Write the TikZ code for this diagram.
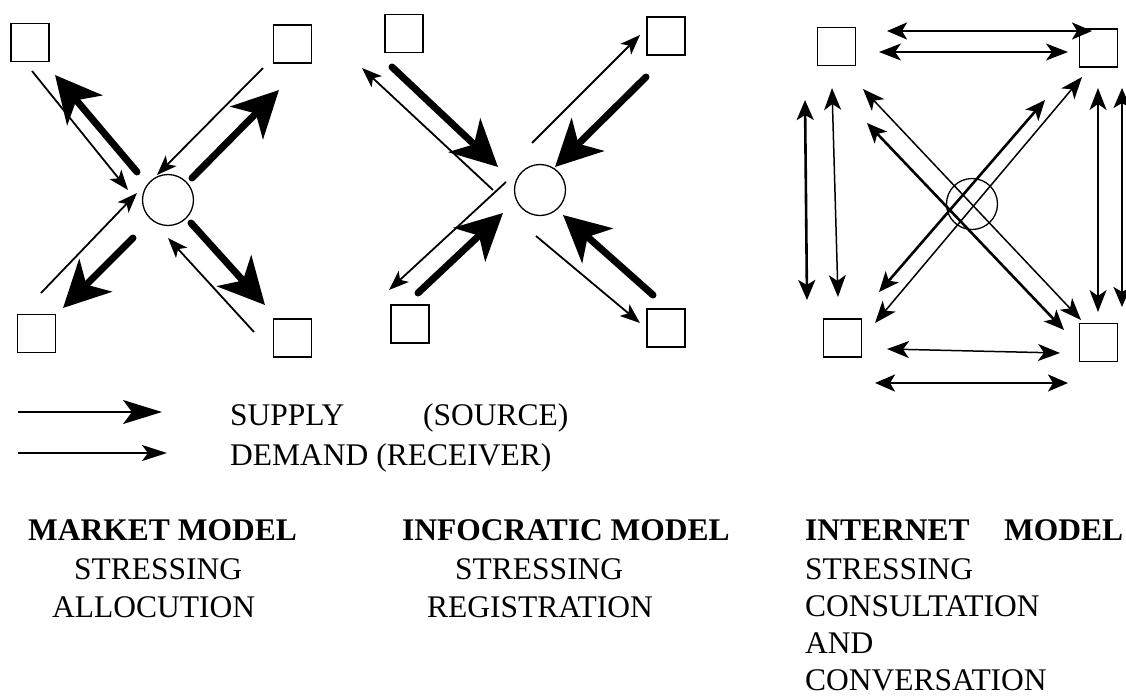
\documentclass[tikz,border=0pt]{standalone}
\usepackage{fontspec}
\setmainfont{Liberation Serif}
\usetikzlibrary{arrows.meta}
\begin{document}
\begin{tikzpicture}[x=1pt,y=-1pt,
  sq/.style={draw, line width=1.5pt, minimum size=38pt, inner sep=0pt},
  hub/.style={draw, circle, line width=1.3pt, minimum size=51pt, inner sep=0pt},
  bigsup/.style={line width=7pt, line cap=round, -{Stealth[length=46pt,width=46pt,inset=13pt]}},
  demone/.style={line width=1.8pt, -{Stealth[length=20pt,width=15pt,inset=5pt]}},
  suptwo/.style={line width=1.5pt, {Stealth[length=22pt,width=17pt,inset=6pt]}-{Stealth[length=22pt,width=17pt,inset=6pt]}},
  demtwo/.style={line width=2.6pt, {Stealth[length=20pt,width=17pt,inset=5pt]}-{Stealth[length=20pt,width=17pt,inset=5pt]}},
  legsup/.style={line width=1.8pt, -{Stealth[length=39pt,width=24pt,inset=9pt]}},
  legdem/.style={line width=1.8pt, -{Stealth[length=25pt,width=16pt,inset=6pt]}},
  txt/.style={anchor=base west, inner sep=0pt, font=\fontsize{31.5pt}{37.7pt}\selectfont},
  btxt/.style={txt, font=\fontsize{31.5pt}{37.7pt}\selectfont\bfseries}
]
\useasboundingbox (0,0) rectangle (1126,697);

% ---------------- Market model ----------------
\node[sq] (mtl) at (30,42.5) {};
\node[sq] (mtr) at (292.5,44) {};
\node[sq] (mbl) at (36.5,333.5) {};
\node[sq] (mbr) at (292.5,338) {};
\node[hub] (mc) at (168,200) {};
\coordinate (ma1) at (137,172); \coordinate (mb1) at (55,75);
\coordinate (ma2) at (32,71);   \coordinate (mb2) at (128,190);
\coordinate (ma3) at (263,68);  \coordinate (mb3) at (157,175);
\coordinate (ma4) at (192,178); \coordinate (mb4) at (279,90);
\coordinate (ma5) at (41,293);  \coordinate (mb5) at (137,193);
\coordinate (ma6) at (133,238); \coordinate (mb6) at (63,308);
\coordinate (ma7) at (191,223); \coordinate (mb7) at (265,305);
\coordinate (ma8) at (254,332); \coordinate (mb8) at (168,238);
\draw[bigsup] (ma1) -- (mb1);
\draw[demone] (ma2) -- (mb2);
\draw[demone] (ma3) -- (mb3);
\draw[bigsup] (ma4) -- (mb4);
\draw[demone] (ma5) -- (mb5);
\draw[bigsup] (ma6) -- (mb6);
\draw[bigsup] (ma7) -- (mb7);
\draw[demone] (ma8) -- (mb8);

% ---------------- Infocratic model ----------------
\node[sq] (itl) at (404,33.5) {};
\node[sq] (itr) at (666,36) {};
\node[sq] (ibl) at (410,324) {};
\node[sq] (ibr) at (666,328) {};
\node[hub] (ic) at (540,190) {};
\coordinate (ia1) at (392,67);  \coordinate (ib1) at (498,167);
\coordinate (ia2) at (493,190); \coordinate (ib2) at (362,68);
\coordinate (ia3) at (532,143); \coordinate (ib3) at (640,35);
\coordinate (ia4) at (646,77);  \coordinate (ib4) at (555,167);
\coordinate (ia5) at (506,182); \coordinate (ib5) at (389,290);
\coordinate (ia6) at (418,293); \coordinate (ib6) at (503,213);
\coordinate (ia7) at (653,295); \coordinate (ib7) at (563,215);
\coordinate (ia8) at (536,236); \coordinate (ib8) at (640,323);
\draw[bigsup] (ia1) -- (ib1);
\draw[demone] (ia2) -- (ib2);
\draw[demone] (ia3) -- (ib3);
\draw[bigsup] (ia4) -- (ib4);
\draw[demone] (ia5) -- (ib5);
\draw[bigsup] (ia6) -- (ib6);
\draw[bigsup] (ia7) -- (ib7);
\draw[demone] (ia8) -- (ib8);

% ---------------- Internet model ----------------
\node[sq] (ntl) at (836.5,46.5) {};
\node[sq] (ntr) at (1098.5,48) {};
\node[sq] (nbl) at (842.5,338) {};
\node[sq] (nbr) at (1098.5,342.5) {};
\node[hub] (nc) at (972,204) {};
\coordinate (na1) at (887,31);   \coordinate (nb1) at (1092,31);
\coordinate (na2) at (879,52);   \coordinate (nb2) at (1068,52);
\coordinate (na3) at (887,349);  \coordinate (nb3) at (1060,353);
\coordinate (na4) at (875,383);  \coordinate (nb4) at (1068,383);
\coordinate (na5) at (805,100);  \coordinate (nb5) at (807,300);
\coordinate (na6) at (832,88);   \coordinate (nb6) at (838,297);
\coordinate (na7) at (1098,88);  \coordinate (nb7) at (1098,312);
\coordinate (na8) at (1122,88);  \coordinate (nb8) at (1122,307);
\coordinate (na9) at (863,89);   \coordinate (nb9) at (1081,320);
\coordinate (na10) at (867,123); \coordinate (nb10) at (1064,330);
\coordinate (na11) at (1082,77); \coordinate (nb11) at (875,323);
\coordinate (na12) at (1045,100);\coordinate (nb12) at (879,292);
\draw[demtwo] (na1) -- (nb1);
\draw[suptwo] (na2) -- (nb2);
\draw[suptwo] (na3) -- (nb3);
\draw[demtwo] (na4) -- (nb4);
\draw[demtwo] (na5) -- (nb5);
\draw[suptwo] (na6) -- (nb6);
\draw[suptwo] (na7) -- (nb7);
\draw[demtwo] (na8) -- (nb8);
\draw[suptwo] (na9) -- (nb9);
\draw[demtwo] (na10) -- (nb10);
\draw[suptwo] (na11) -- (nb11);
\draw[demtwo] (na12) -- (nb12);

% ---------------- Legend ----------------
\coordinate (ls1) at (18,412);  \coordinate (ls2) at (162,412);
\coordinate (ld1) at (18,453);  \coordinate (ld2) at (167,453);
\draw[legsup] (ls1) -- (ls2);
\draw[legdem] (ld1) -- (ld2);
\node[txt] (tsup) at (230,425) {SUPPLY};
\node[txt] (tsrc) at (423,425) {(SOURCE)};
\node[txt] (tdem) at (230,465) {DEMAND (RECEIVER)};

% ---------------- Captions ----------------
\node[btxt] (c1a) at (28,540) {MARKET MODEL};
\node[txt]  (c1b) at (74,579) {STRESSING};
\node[txt]  (c1c) at (52,617) {ALLOCUTION};

\node[btxt] (c2a) at (402,540) {INFOCRATIC MODEL};
\node[txt]  (c2b) at (455,579) {STRESSING};
\node[txt]  (c2c) at (427,617) {REGISTRATION};

\node[btxt] (c3a) at (805,540) {\hbox to 318pt{INTERNET\hfil MODEL}};
\node[txt]  (c3b) at (805,579) {STRESSING};
\node[txt]  (c3c) at (805,616) {CONSULTATION};
\node[txt]  (c3d) at (805,653) {AND};
\node[txt]  (c3e) at (805,690) {CONVERSATION};
\end{tikzpicture}
\end{document}
